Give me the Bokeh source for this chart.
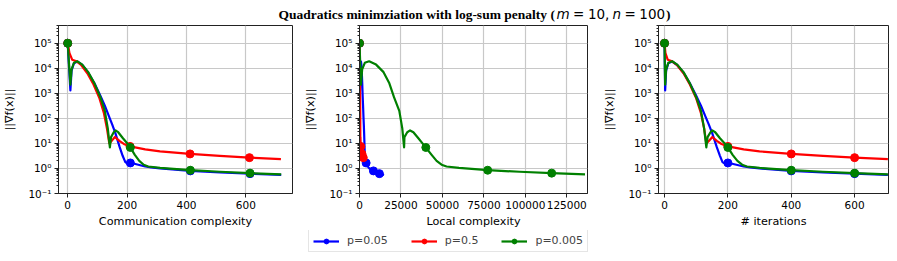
from bokeh.plotting import figure
from bokeh.layouts import column, row
from bokeh.models import (Range1d, FixedTicker, CustomJSTickFormatter, NumeralTickFormatter,
                          Legend, LegendItem, ColumnDataSource)
from bokeh.core.properties import value
from bokeh.embed import file_html
from bokeh.resources import INLINE

SERIES_LABELS = ["p=0.05", "p=0.5", "p=0.005"]
SERIES_COLORS = ["blue", "red", "green"]
MARK_ITERS = [0, 200, 400, 600]

blue_iter = [0, 2, 5, 12, 24, 40, 60, 80, 100, 115, 130, 140, 151, 165, 175, 183, 190, 200, 210, 230, 250, 270, 300, 400, 500, 600, 705]
blue_comm = [0, 9, 13, 21, 33, 49, 69, 90, 110, 125, 140, 150, 161, 175, 185, 194, 201, 211, 221, 241, 261, 281, 311, 413, 513, 614, 719]
blue_local = [0, 300, 500, 700, 900, 1150, 1400, 1650, 1900, 2150, 2400, 2600, 2800, 3050, 3200, 3400, 3650, 4000, 4200, 4600, 5000, 5400, 6000, 8400, 10200, 12000, 14800]
blue_grad = [1e5, 1300, 8000, 16000, 18600, 13500, 6600, 2500, 800, 320, 112, 56, 24.5, 7.1, 3.2, 1.8, 1.58, 1.66, 1.58, 1.38, 1.2, 1.1, 1.0, 0.8, 0.69, 0.62, 0.55]

red_iter = [0, 3, 10, 24, 40, 60, 80, 100, 115, 125, 132, 140, 151, 165, 180, 200, 250, 300, 400, 500, 600, 705]
red_comm = [0, 6, 15, 30, 46, 66, 87, 107, 122, 132, 140, 148, 159, 174, 189, 210, 261, 311, 412, 512, 612, 718]
red_local = [0, 12, 40, 95, 155, 230, 305, 380, 440, 475, 500, 530, 575, 630, 685, 760, 950, 1140, 1520, 1900, 2280, 2680]
red_grad = [1e5, 40000, 22000, 19000, 13200, 6300, 2240, 630, 160, 40, 10, 12.6, 18, 12.6, 9.5, 7.6, 5.75, 4.8, 3.8, 3.16, 2.7, 2.35]

green_iter = [0, 2, 5, 12, 24, 40, 60, 80, 100, 115, 125, 132, 136, 145, 151, 160, 175, 190, 200, 215, 230, 245, 260, 300, 400, 500, 600, 705]
green_comm = [0, 9, 13, 21, 33, 49, 69, 90, 110, 125, 135, 142, 146, 155, 161, 170, 186, 201, 211, 226, 241, 256, 271, 311, 413, 513, 614, 719]
green_local = [0, 900, 1600, 3200, 5800, 10000, 14500, 18000, 20800, 24000, 25800, 26900, 27100, 28800, 30500, 32500, 35500, 38000, 40000, 43500, 46500, 49500, 52500, 60000, 77300, 96500, 115900, 136000]
green_grad = [1e5, 2200, 9000, 16500, 19000, 14000, 7000, 2500, 700, 200, 40, 7, 17.8, 28, 33, 28, 16, 10, 6.9, 3.5, 2.0, 1.41, 1.2, 1.05, 0.85, 0.74, 0.65, 0.575]

SERIES = [
    dict(iters=blue_iter, comm=blue_comm, local=blue_local, grad=blue_grad),
    dict(iters=red_iter, comm=red_comm, local=red_local, grad=red_grad),
    dict(iters=green_iter, comm=green_comm, local=green_local, grad=green_grad),
]

Y_TICKS = [1e-1, 1e0, 1e1, 1e2, 1e3, 1e4, 1e5]
X_TICKS_ITER = [0, 200, 400, 600]
X_TICKS_LOCAL = [0, 25000, 50000, 75000, 100000, 125000]
Y_LABEL = "||\u2207f(x)||"

FONT = "DejaVu Sans"
TICK_SIZE = "10.5px"
LABEL_SIZE = "11.2px"

sup_js = r"""
const e = Math.round(Math.log10(tick));
const sup = {"-": "\u207b", "0": "\u2070", "1": "\u00b9", "2": "\u00b2", "3": "\u00b3",
             "4": "\u2074", "5": "\u2075", "6": "\u2076", "7": "\u2077", "8": "\u2078", "9": "\u2079"};
let s = "";
for (const c of String(e)) s += sup[c];
return "10" + s;
"""

minor = []
for k in range(-1, 6):
    for m in range(2, 10):
        v = m * 10.0 ** k
        if v < 5.1e5:
            minor.append(v)

PLOT_H = 206


def make_panel(key, xr, xticks, xlabel, left, frame_w, right, numeral=False):
    p = figure(width=left + frame_w + right, height=PLOT_H, y_axis_type="log",
               x_range=Range1d(*xr), y_range=Range1d(0.1, 5.1e5),
               output_backend="svg", toolbar_location=None,
               min_border_left=left, min_border_right=right,
               min_border_top=1, min_border_bottom=37)
    p.outline_line_color = "#222222"
    p.outline_line_width = 1
    p.background_fill_color = "white"
    p.border_fill_color = "white"
    p.xaxis.ticker = FixedTicker(ticks=xticks)
    p.yaxis.ticker = FixedTicker(ticks=Y_TICKS, minor_ticks=minor)
    p.yaxis.formatter = CustomJSTickFormatter(code=sup_js)
    if numeral:
        p.xaxis.formatter = NumeralTickFormatter(format="0")
    for ax in (p.xaxis[0], p.yaxis[0]):
        ax.axis_line_color = "#222222"
        ax.major_tick_line_color = "#222222"
        ax.minor_tick_line_color = "#222222"
        ax.major_tick_out = 4
        ax.major_tick_in = 0
        ax.minor_tick_in = 0
        ax.major_label_standoff = 3
        ax.major_label_text_font = FONT
        ax.major_label_text_font_size = TICK_SIZE
        ax.major_label_text_color = "black"
        ax.axis_label_text_font = FONT
        ax.axis_label_text_font_size = LABEL_SIZE
        ax.axis_label_text_font_style = "normal"
        ax.axis_label_text_color = "black"
    p.xaxis.minor_tick_out = 0
    p.yaxis.minor_tick_out = 2
    p.xaxis.axis_label = xlabel
    p.yaxis.axis_label = Y_LABEL
    p.xaxis.axis_label_standoff = 3
    p.yaxis.axis_label_standoff = 9
    p.grid.grid_line_color = "#c8c8c8"
    p.grid.grid_line_width = 1.2
    for s, color in zip(SERIES, SERIES_COLORS):
        xs = s[key]
        ys = s["grad"]
        mx = [x for x, it in zip(xs, s["iters"]) if it in MARK_ITERS]
        my = [y for y, it in zip(ys, s["iters"]) if it in MARK_ITERS]
        p.line(xs, ys, line_color=color, line_width=2.2, line_join="round")
        p.scatter(mx, my, size=8, fill_color=color, line_color=color)
    return p


p1 = make_panel("comm", (-31, 757), X_TICKS_ITER, "Communication complexity", 58, 234, 8)
p2 = make_panel("local", (0, 137500), X_TICKS_LOCAL, "Local complexity", 59, 228, 10, numeral=True)
p3 = make_panel("iters", (-19, 707), X_TICKS_ITER, "# iterations", 61, 230, 9)

TOTAL_W = 897
TITLE_H = 24

t = figure(width=TOTAL_W, height=TITLE_H, x_range=Range1d(0, TOTAL_W), y_range=Range1d(0, TITLE_H),
           output_backend="svg", toolbar_location=None, min_border=0,
           x_axis_location=None, y_axis_location=None)
t.grid.visible = False
t.outline_line_color = None
t.border_fill_color = "white"
title_parts = [
    ("Quadratics minimziation with log-sum penalty (", 278, "Liberation Serif", "bold"),
    ("m", 556, FONT, "italic"),
    ("=", 572.6, FONT, "normal"),
    ("10,", 587.4, FONT, "normal"),
    ("n", 612, FONT, "italic"),
    ("=", 624, FONT, "normal"),
    ("100", 638.8, FONT, "normal"),
    (")", 665.5, "Liberation Serif", "bold"),
]
for txt, x0, fnt, style in title_parts:
    t.text(x=[x0], y=[10.5], text=[txt], text_font=value(fnt), text_font_style=style,
           text_font_size="13.5px", text_align="left", text_baseline="alphabetic", text_color="black")

lg = figure(width=TOTAL_W, height=28, x_range=Range1d(0, 1), y_range=Range1d(0, 1),
            output_backend="svg", toolbar_location=None, min_border=0,
            x_axis_location=None, y_axis_location=None)
lg.grid.visible = False
lg.outline_line_color = None
items = []
for lab, color in zip(SERIES_LABELS, SERIES_COLORS):
    src = ColumnDataSource(dict(x=[5, 6], y=[5, 5]))
    l = lg.line("x", "y", source=src, line_color=color, line_width=2.2)
    c = lg.scatter("x", "y", source=src, size=7, fill_color=color, line_color=color)
    items.append(LegendItem(label=lab, renderers=[l, c]))
legend = Legend(items=items, orientation="horizontal", location=(308, 6),
                glyph_width=26, glyph_height=12, label_height=12, label_standoff=8,
                spacing=23, padding=4, margin=0,
                label_text_font=FONT, label_text_font_size="11px",
                border_line_color="#cccccc", border_line_width=1,
                background_fill_color="white", background_fill_alpha=1)
lg.add_layout(legend, "center")

layout = column(t, row(p1, p2, p3), lg)

open("out.html", "w").write(file_html(layout, INLINE))
